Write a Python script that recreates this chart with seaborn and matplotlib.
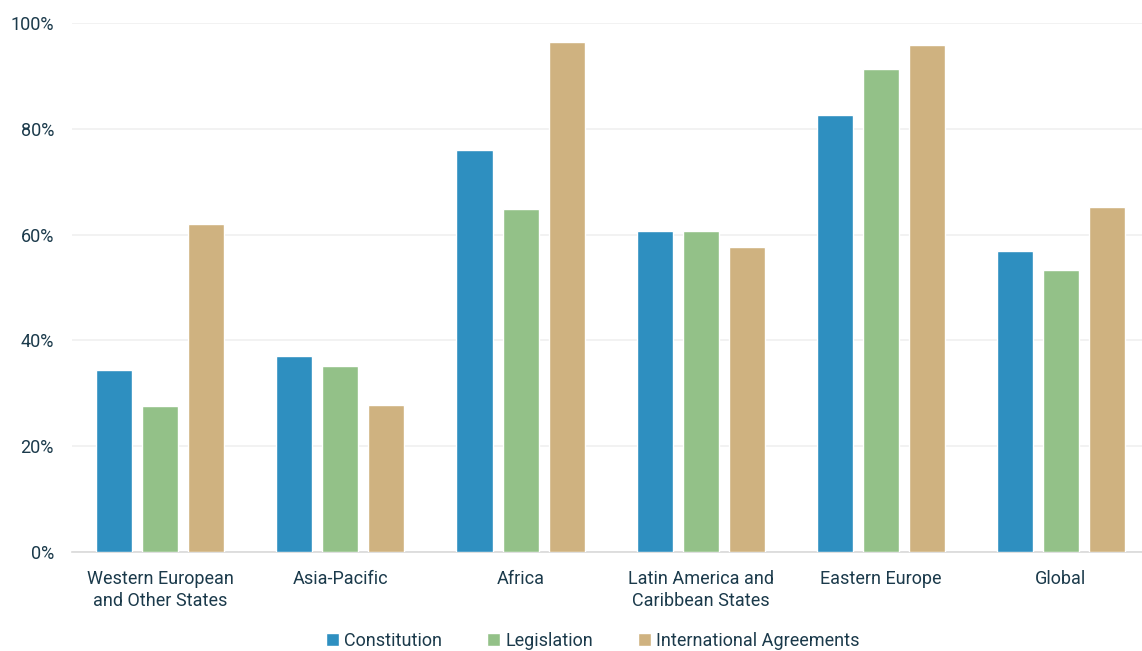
import seaborn as sns
import matplotlib.pyplot as plt
import matplotlib.ticker as mticker
import pandas as pd

regions = ['Western European\nand Other States', 'Asia-Pacific', 'Africa',
           'Latin America and\nCaribbean States', 'Eastern Europe', 'Global']
series = ['Constitution', 'Legislation', 'International Agreements']
constitution = [34.4, 37.0, 76.0, 60.7, 82.6, 56.9]
legislation = [27.6, 35.2, 64.8, 60.7, 91.3, 53.3]
intl_agreements = [62.0, 27.8, 96.4, 57.7, 95.8, 65.2]
colors = ['#2E8FC0', '#93C188', '#CFB280']
text_color = '#1B3A4B'

df = pd.DataFrame({
    'region': regions * 3,
    'series': [s for s in series for _ in regions],
    'value': constitution + legislation + intl_agreements,
})

sns.set_style('white')
plt.rcParams['font.family'] = ['Roboto', 'DejaVu Sans']

fig = plt.figure(figsize=(11.42, 6.51), dpi=100)
ax = fig.add_axes([72 / 1142, 1 - 552 / 651, 1 - 72 / 1142, (552 - 23) / 651])

sns.barplot(data=df, x='region', y='value', hue='series', palette=colors,
            saturation=1, width=0.767, gap=0.217, ax=ax, zorder=3)

ax.set_ylim(0, 100)
ax.set_xlim(-0.49, 5.45)
ax.yaxis.set_major_locator(mticker.MultipleLocator(20))
ax.yaxis.set_major_formatter(mticker.FuncFormatter(lambda v, p: f'{v:.0f}%'))
ax.grid(axis='y', color='#F0F0F0', linewidth=1.2, zorder=0)
for s in ['top', 'right', 'left']:
    ax.spines[s].set_visible(False)
ax.spines['bottom'].set_color('#D9D9D9')
ax.spines['bottom'].set_linewidth(1.2)
ax.tick_params(axis='both', length=0, labelsize=13, labelcolor=text_color)
ax.tick_params(axis='x', pad=13)
ax.tick_params(axis='y', pad=13)
for lbl in ax.get_xticklabels():
    lbl.set_linespacing(1.3)
ax.set_xlabel('')
ax.set_ylabel('')

handles, labels = ax.get_legend_handles_labels()
ax.legend(handles, labels, loc='center', bbox_to_anchor=(0.487, -0.168),
          ncol=3, frameon=False, fontsize=13, labelcolor=text_color,
          handlelength=0.7, handleheight=0.7, handletextpad=0.3, columnspacing=2.5)

fig.savefig('out.png', dpi=100)
